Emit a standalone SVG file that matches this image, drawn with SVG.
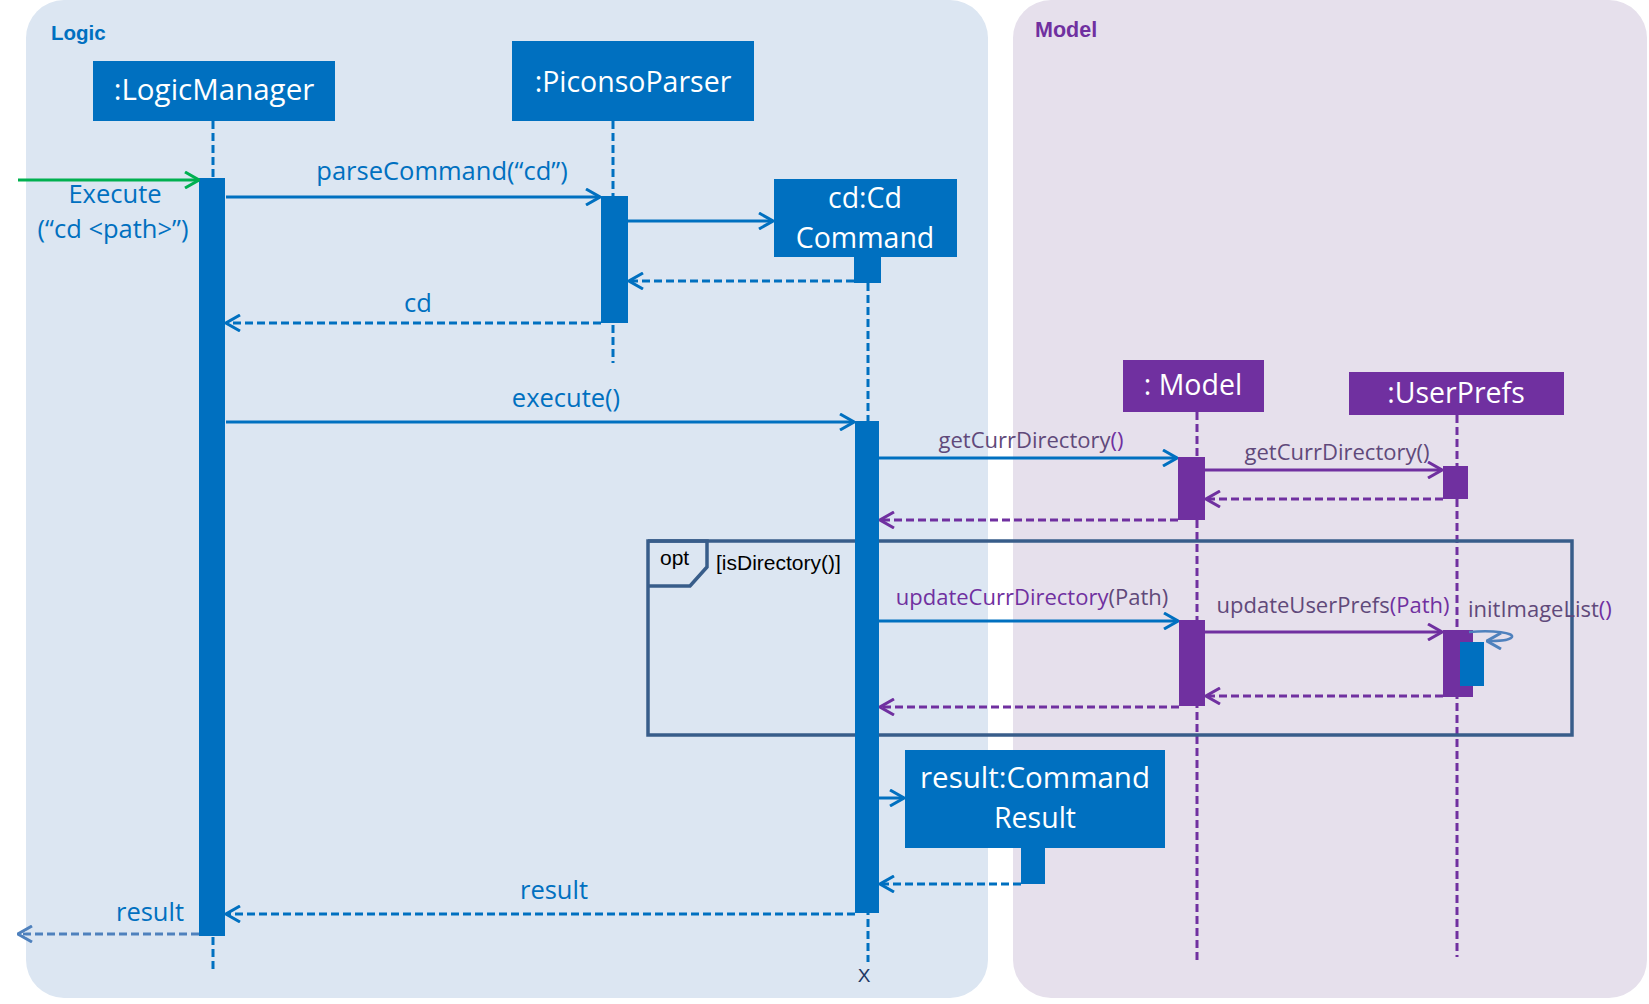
<svg xmlns="http://www.w3.org/2000/svg" width="1649" height="1004" viewBox="0 0 1649 1004">
<style>
.box{fill:#0070C0}
.pbox{fill:#7030A0}
.title{font-family:"Open Sans","Noto Sans",sans-serif;font-size:28.5px;fill:#fff;text-anchor:middle}
.lbl{font-family:"Open Sans","Noto Sans",sans-serif;font-size:25.5px;fill:#0070C0;text-anchor:middle}
.plbl{font-family:"Open Sans","Noto Sans",sans-serif;font-size:22px;fill:#60497A;text-anchor:middle}
.start{text-anchor:start}
.pur{fill:#7030A0}
.life{stroke:#0070C0;stroke-width:3;stroke-dasharray:8 4;fill:none}
.plife{stroke:#7030A0;stroke-width:3;stroke-dasharray:8 4;fill:none}
.call{stroke:#0070C0;stroke-width:3;fill:none;marker-end:url(#ab)}
.pcall{stroke:#7030A0;stroke-width:3;fill:none;marker-end:url(#ap)}
.ret{stroke:#0070C0;stroke-width:3;stroke-dasharray:8 4;fill:none;marker-end:url(#ab)}
.pret{stroke:#7030A0;stroke-width:3;stroke-dasharray:8 4;fill:none;marker-end:url(#ap)}
.frame{stroke:#385D8A;stroke-width:3.5;fill:none}
.small{font-family:"Liberation Sans",Arial,sans-serif;font-size:21px;fill:#000}
</style>
<defs>
<marker id="ab" viewBox="0 0 16 18" refX="15" refY="9" markerWidth="16" markerHeight="18" markerUnits="userSpaceOnUse" orient="auto"><path d="M1,1 L15,9 L1,17" fill="none" stroke="#0070C0" stroke-width="3"/></marker>
<marker id="ap" viewBox="0 0 16 18" refX="15" refY="9" markerWidth="16" markerHeight="18" markerUnits="userSpaceOnUse" orient="auto"><path d="M1,1 L15,9 L1,17" fill="none" stroke="#7030A0" stroke-width="3"/></marker>
<marker id="ag" viewBox="0 0 16 18" refX="15" refY="9" markerWidth="16" markerHeight="18" markerUnits="userSpaceOnUse" orient="auto"><path d="M1,1 L15,9 L1,17" fill="none" stroke="#00B050" stroke-width="3"/></marker>
<marker id="as" viewBox="0 0 16 18" refX="15" refY="9" markerWidth="16" markerHeight="18" markerUnits="userSpaceOnUse" orient="auto"><path d="M1,1 L15,9 L1,17" fill="none" stroke="#4F81BD" stroke-width="3"/></marker>
</defs>
<rect width="1649" height="1004" fill="#fff"/>
<g id="panel-logic">
<rect x="26" y="0" width="962" height="998" rx="38" fill="#DCE6F2"/>
<text x="51" y="40" font-family="Liberation Sans,Arial,sans-serif" font-weight="bold" font-size="20.5" fill="#0070C0">Logic</text>
</g>
<g id="panel-model">
<rect x="1013" y="0" width="634" height="998" rx="38" fill="#E6E0EC"/>
<text x="1035" y="37" font-family="Liberation Sans,Arial,sans-serif" font-weight="bold" font-size="21.5" fill="#7030A0">Model</text>
</g>
<g id="lifelines">
<line class="life" x1="213" y1="121" x2="213" y2="972"/>
<line class="life" x1="613" y1="121" x2="613" y2="363"/>
<line class="life" x1="868" y1="283" x2="868" y2="962"/>
<line class="plife" x1="1197" y1="412" x2="1197" y2="960"/>
<line class="plife" x1="1457" y1="415" x2="1457" y2="957"/>
</g>
<g id="opt-frame">
<rect class="frame" x="648" y="541" width="924" height="194"/>
<path class="frame" d="M648,541 L707,541 L707,567 L690,586 L648,586"/>
<text class="small" x="660" y="565">opt</text>
<text class="small" x="716" y="570">[isDirectory()]</text>
</g>
<g id="logicmanager">
<rect class="box" x="93" y="61" width="242" height="60"/>
<text class="title" x="214" y="100" style="font-size:29.5px">:LogicManager</text>
<rect class="box" x="199" y="178" width="26" height="758"/>
</g>
<g id="parser">
<rect class="box" x="512" y="41" width="242" height="80"/>
<text class="title" x="633" y="92">:PiconsoParser</text>
<rect class="box" x="601" y="196" width="27" height="127"/>
</g>
<g id="cdcommand">
<rect class="box" x="774" y="179" width="183" height="78"/>
<text class="title" x="865" y="208">cd:Cd</text>
<text class="title" x="865" y="248">Command</text>
<rect class="box" x="854" y="257" width="27" height="26"/>
<rect class="box" x="855" y="421" width="24" height="492"/>
<text x="864" y="982" font-family="Liberation Sans,Arial,sans-serif" font-size="19" fill="#1F3864" text-anchor="middle">X</text>
</g>
<g id="model">
<rect class="pbox" x="1123" y="360" width="141" height="52"/>
<text class="title" x="1193" y="395">: Model</text>
<rect class="pbox" x="1178" y="457" width="27" height="63"/>
<rect class="pbox" x="1179" y="620" width="26" height="86"/>
</g>
<g id="userprefs">
<rect class="pbox" x="1349" y="372" width="215" height="43"/>
<text class="title" x="1456" y="403">:UserPrefs</text>
<rect class="pbox" x="1443" y="466" width="25" height="33"/>
<rect class="pbox" x="1443" y="630" width="30" height="67"/>
<rect class="box" x="1460" y="642" width="24" height="44"/>
</g>
<g id="commandresult">
<rect class="box" x="905" y="750" width="260" height="98"/>
<text class="title" x="1035" y="788" style="font-size:29.5px">result:Command</text>
<text class="title" x="1035" y="828">Result</text>
<rect class="box" x="1021" y="848" width="24" height="36"/>
</g>
<g id="connectors">
<line x1="18" y1="180" x2="199" y2="180" stroke="#00B050" stroke-width="3" marker-end="url(#ag)"/>
<line class="call" x1="226" y1="197" x2="600" y2="197"/>
<line class="call" x1="628" y1="221" x2="773" y2="221"/>
<line class="ret" x1="854" y1="281" x2="629" y2="281"/>
<line class="ret" x1="601" y1="323" x2="226" y2="323"/>
<line class="call" x1="226" y1="422" x2="854" y2="422"/>
<line class="call" x1="879" y1="458" x2="1177" y2="458"/>
<line class="pcall" x1="1205" y1="470" x2="1442" y2="470"/>
<line class="pret" x1="1443" y1="499" x2="1206" y2="499"/>
<line class="pret" x1="1178" y1="520" x2="880" y2="520"/>
<line class="call" x1="879" y1="621" x2="1178" y2="621"/>
<line class="pcall" x1="1205" y1="632" x2="1442" y2="632"/>
<path d="M1469,632 C1495,630 1514,633 1512,637 C1509,641 1497,641 1487,641" fill="none" stroke="#4F81BD" stroke-width="2.5" marker-end="url(#as)"/>
<line class="pret" x1="1443" y1="696" x2="1206" y2="696"/>
<line class="pret" x1="1179" y1="707" x2="880" y2="707"/>
<line class="call" x1="879" y1="798" x2="904" y2="798"/>
<line class="ret" x1="1021" y1="884" x2="880" y2="884"/>
<line class="ret" x1="855" y1="914" x2="226" y2="914"/>
<line x1="199" y1="934" x2="18" y2="934" stroke="#4F81BD" stroke-width="3" stroke-dasharray="8 4" marker-end="url(#as)"/>
</g>
<g id="labels">
<text class="lbl" x="115" y="203">Execute</text>
<text class="lbl" x="113" y="238">(“cd &lt;path&gt;”)</text>
<text class="lbl" x="442" y="180">parseCommand(“cd”)</text>
<text class="lbl" x="418" y="312">cd</text>
<text class="lbl" x="566" y="407">execute()</text>
<text class="plbl" x="1031" y="448">getCurrDirectory<tspan class="pur">()</tspan></text>
<text class="plbl" x="1337" y="460">getCurrDirectory()</text>
<text class="plbl" x="1032" y="605"><tspan class="pur">updateCurrDirectory</tspan>(Path)</text>
<text class="plbl" x="1333" y="613">updateUserPrefs<tspan class="pur">(Path)</tspan></text>
<text class="plbl start" x="1468" y="617">initImageList<tspan class="pur">()</tspan></text>
<text class="lbl" x="554" y="899">result</text>
<text class="lbl" x="150" y="921">result</text>
</g>
</svg>
